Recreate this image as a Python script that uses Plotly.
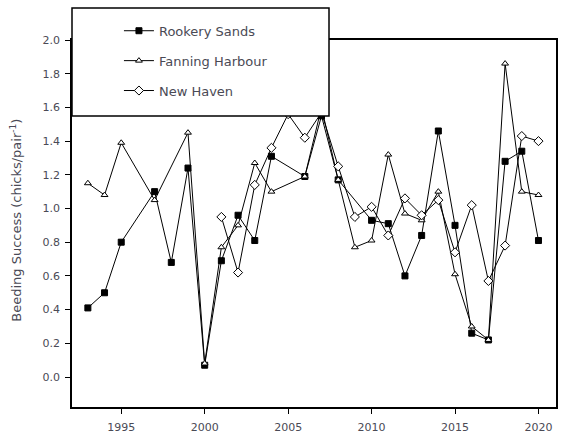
import plotly.graph_objects as go

# ---- data ----
rookery_years = [1993, 1994, 1995, 1997, 1998, 1999, 2000, 2001, 2002, 2003, 2004, 2006, 2007,
                 2008, 2010, 2011, 2012, 2013, 2014, 2015, 2016, 2017, 2018, 2019, 2020]
rookery_vals = [0.41, 0.50, 0.80, 1.10, 0.68, 1.24, 0.07, 0.69, 0.96, 0.81, 1.31, 1.19, 1.55,
                1.17, 0.93, 0.91, 0.60, 0.84, 1.46, 0.90, 0.26, 0.22, 1.28, 1.34, 0.81]

fanning_years = [1993, 1994, 1995, 1997, 1999, 2000, 2001, 2002, 2003, 2004, 2006, 2007, 2008,
                 2009, 2010, 2011, 2012, 2013, 2014, 2015, 2016, 2017, 2018, 2019, 2020]
fanning_vals = [1.15, 1.08, 1.39, 1.05, 1.45, 0.08, 0.77, 0.90, 1.27, 1.10, 1.19, 1.60, 1.17,
                0.77, 0.81, 1.32, 0.97, 0.93, 1.10, 0.61, 0.30, 0.22, 1.86, 1.10, 1.08]

newhaven_years = [2001, 2002, 2003, 2004, 2005, 2006, 2007, 2008, 2009, 2010, 2011, 2012,
                  2013, 2014, 2015, 2016, 2017, 2018, 2019, 2020]
newhaven_vals = [0.95, 0.62, 1.14, 1.36, 1.56, 1.42, 1.57, 1.25, 0.95, 1.01, 0.84, 1.06,
                 0.96, 1.05, 0.74, 1.02, 0.57, 0.78, 1.43, 1.40]

series_names = ["Rookery Sands", "Fanning Harbour", "New Haven"]
y_ticks = [0.0, 0.2, 0.4, 0.6, 0.8, 1.0, 1.2, 1.4, 1.6, 1.8, 2.0]
x_ticks = [1995, 2000, 2005, 2010, 2015, 2020]
y_title = "Beeding Success (chicks/pair<sup>-1</sup>)"

FONT = "DejaVu Sans"
TXT = "#4a4a55"

fig = go.Figure()
fig.add_trace(go.Scatter(
    x=rookery_years, y=rookery_vals, name=series_names[0], mode="lines+markers",
    legendgroup="a",
    line=dict(color="black", width=1),
    marker=dict(symbol="square", size=6, color="black", line=dict(color="black", width=1))))
fig.add_trace(go.Scatter(
    x=fanning_years, y=fanning_vals, name=series_names[1], mode="lines+markers",
    legendgroup="b",
    line=dict(color="black", width=1),
    marker=dict(symbol="triangle-up", size=6, color="white", line=dict(color="black", width=1))))
fig.add_trace(go.Scatter(
    x=newhaven_years, y=newhaven_vals, name=series_names[2], mode="lines+markers",
    legendgroup="c",
    line=dict(color="black", width=1),
    marker=dict(symbol="diamond", size=7, color="white", line=dict(color="black", width=1))))

# Opaque legend box drawn over the plot
fig.add_shape(type="rect", xref="paper", yref="paper", x0=0, x1=0.531, y0=0.793, y1=1.087,
              fillcolor="white", line=dict(color="black", width=1.5), layer="above")

fig.add_annotation(text=y_title, xref="paper", yref="paper", x=-0.116, y=0.51,
                   textangle=-90, showarrow=False, xanchor="center", yanchor="middle",
                   font=dict(family=FONT, size=13, color=TXT))

fig.update_layout(
    width=565, height=437,
    margin=dict(l=72, r=9, t=40, b=30, autoexpand=False),
    paper_bgcolor="white", plot_bgcolor="white",
    font=dict(family=FONT, size=11, color=TXT),
    showlegend=True,
    legend=dict(x=0.097, y=1.066, xanchor="left", yanchor="top",
                bgcolor="rgba(0,0,0,0)", borderwidth=0,
                font=dict(family=FONT, size=13, color=TXT),
                traceorder="grouped", tracegroupgap=10),
)
fig.update_xaxes(range=[1992.05, 2021.05], tickvals=x_ticks, ticktext=[str(v) for v in x_ticks],
                 showgrid=False, zeroline=False, showline=True, linecolor="black", linewidth=1.5,
                 mirror=True, ticks="outside", ticklen=5, tickcolor="black", tickwidth=1.2,
                 ticklabelstandoff=4, automargin=False)
fig.update_yaxes(range=[-0.178, 2.0], tickvals=y_ticks, ticktext=[f"{v:.1f}" for v in y_ticks],
                 showgrid=False, zeroline=False, showline=True, linecolor="black", linewidth=1.5,
                 mirror=True, ticks="outside", ticklen=5, tickcolor="black", tickwidth=1.2,
                 ticklabelstandoff=3, automargin=False)

fig.write_html("out.html")
